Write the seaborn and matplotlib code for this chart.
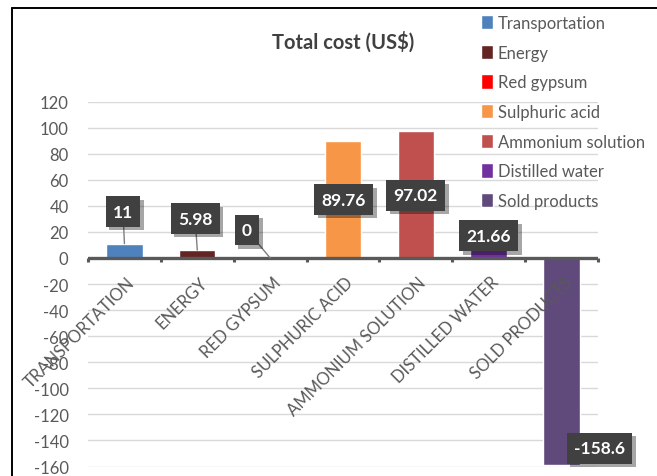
import matplotlib
matplotlib.use("Agg")
import matplotlib.pyplot as plt
import matplotlib.patheffects as pe
from matplotlib.lines import Line2D
import seaborn as sns
import pandas as pd

# Cost items and their totals (US$)
categories = ["Transportation", "Energy", "Red gypsum", "Sulphuric acid",
              "Ammonium solution", "Distilled water", "Sold products"]
axis_labels = ["TRANSPORTATION", "ENERGY", "RED GYPSUM", "SULPHURIC ACID",
               "AMMONIUM SOLUTION", "DISTILLED WATER", "SOLD PRODUCTS"]
values = [11, 5.98, 0, 89.76, 97.02, 21.66, -158.6]
colors = ["#4F81BD", "#632523", "#FF0000", "#F79646", "#C0504D", "#7030A0", "#604A7B"]
y_ticks = list(range(-160, 121, 20))

# where each value callout box sits (category position, y)
callout_pos = [(-0.02, 35.6), (0.97, 30.2), (1.68, 21.4), (3.01, 44.8),
               (4.0, 47.9), (5.0, 17.0), (6.52, -146.0)]
leader_lines = [True, True, True, False, False, False, False]

sns.set_style("white")
plt.rcParams["font.family"] = ["Lato", "DejaVu Sans"]

df = pd.DataFrame({"item": categories, "cost": values})

W, H = 657, 477
fig = plt.figure(figsize=(W / 100, H / 100), dpi=100)
ax = fig.add_axes([88 / W, 1 - 467.5 / H, 510 / W, (467.5 - 102.5) / H])

sns.barplot(data=df, x="item", y="cost", hue="item", palette=colors,
            order=categories, hue_order=categories, width=0.5, dodge=False,
            saturation=1, legend=True, ax=ax)
for p in ax.patches:
    p.set_zorder(2)

ax.set_ylim(-160, 120)
ax.set_xlim(-0.5, len(categories) - 0.5)
ax.set_yticks(y_ticks)
ax.set_yticklabels([str(t) for t in y_ticks], color="#595959", fontsize=12)
ax.tick_params(axis="y", length=0, pad=14)
ax.set_xticks([])
ax.set_xlabel("")
ax.set_ylabel("")
for s in ax.spines.values():
    s.set_visible(False)

# gridlines
for t in y_ticks:
    if t != 0:
        ax.axhline(t, color="#D9D9D9", lw=1.0, zorder=0)

# category axis at zero with tick marks between categories
ax.axhline(0, color="#595959", lw=2.4, zorder=3)
for k in range(len(categories) + 1):
    ax.plot([k - 0.5, k - 0.5], [0, -3.3], color="#595959", lw=2.2,
            zorder=3, solid_capstyle="butt", clip_on=False)

# rotated category labels
for i, lab in enumerate(axis_labels):
    ax.text(i + 0.03, -12.0, lab, rotation=45, ha="right", va="top",
            rotation_mode="anchor", fontsize=12, color="#595959", zorder=10)

# value callouts
for i, (v, (cx, cy), lead) in enumerate(zip(values, callout_pos, leader_lines)):
    if lead:
        ax.plot([cx, i], [cy, v], color="#7F7F7F", lw=1.0, zorder=4)
    txt = f"{v:g}"
    t = ax.text(cx, cy, txt, ha="center", va="center", fontsize=12.5,
                fontweight="bold", color="white", zorder=12,
                bbox=dict(boxstyle="square,pad=0.42", fc="#404040", ec="none"))
    t.get_bbox_patch().set_path_effects([
        pe.SimplePatchShadow(offset=(2.5, -2.5), shadow_rgbFace="#000000", alpha=0.35),
        pe.Normal()])

# title
fig.text(343.5 / W, 1 - 42 / H, "Total cost (US$)", ha="center", va="center",
         fontsize=14.5, fontweight="bold", color="#404040")

# legend
handles, labels = ax.get_legend_handles_labels()
ax.legend(handles, labels, loc="upper left",
          bbox_to_anchor=(481 / W, 1 - 16 / H), bbox_transform=fig.transFigure,
          frameon=False, fontsize=12, labelcolor="#595959",
          handlelength=0.7, handleheight=0.95, handletextpad=0.3,
          labelspacing=0.82, borderpad=0, borderaxespad=0)

# outer frame
fig.add_artist(Line2D([12 / W, 12 / W], [0, 1 - 9 / H], color="black", lw=1.4,
                      transform=fig.transFigure))
fig.add_artist(Line2D([12 / W, 1], [1 - 9 / H, 1 - 9 / H], color="black", lw=1.4,
                      transform=fig.transFigure))

fig.savefig("out.png", dpi=100)
